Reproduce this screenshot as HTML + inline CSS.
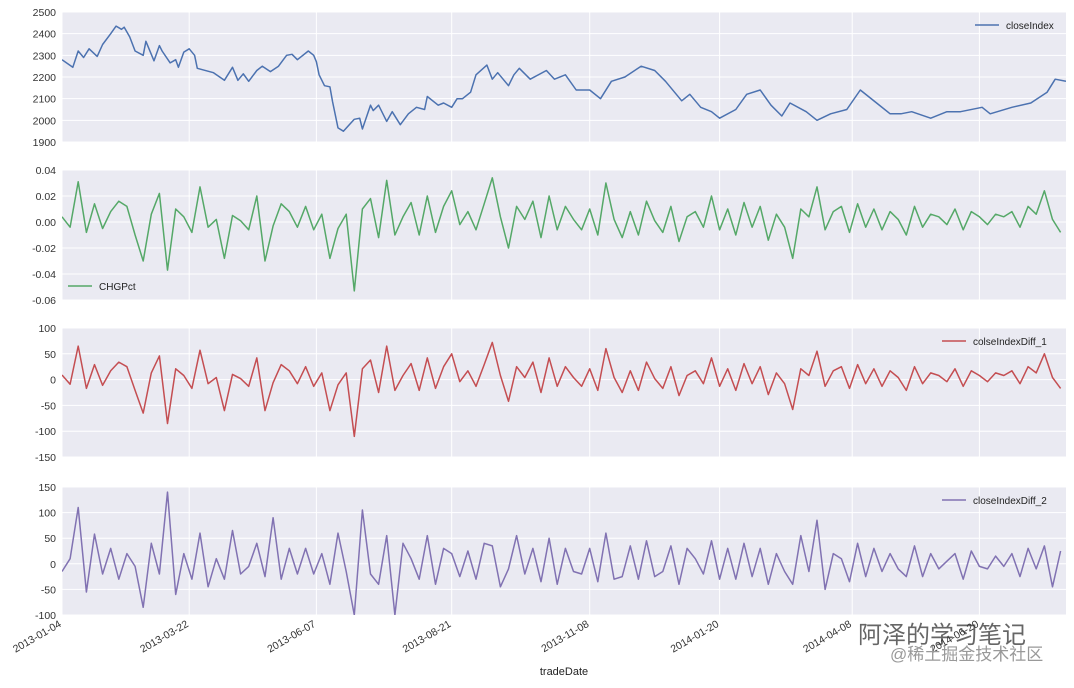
<!DOCTYPE html>
<html><head><meta charset="utf-8">
<style>
body{margin:0;background:#fff;width:1074px;height:683px;overflow:hidden;font-family:"Liberation Sans","Noto Sans CJK SC",sans-serif;}
svg text{font-family:"Liberation Sans","Noto Sans CJK SC",sans-serif;}
</style></head>
<body>
<svg id="chart" width="1074" height="683" xmlns="http://www.w3.org/2000/svg"></svg>
<script>
const closeDays=[0,4,6,8,10,13,15,18,20,22,23,25,27,30,31,34,36,37,40,42,43,45,47,49,50,56,60,63,65,67,69,72,74,77,80,83,85,87,91,93,94,95,97,99,100,102,104,108,110,111,114,115,117,120,122,125,128,131,134,135,139,141,144,146,148,151,153,157,159,161,165,167,169,173,179,182,186,190,195,199,203,208,214,219,223,229,232,236,240,243,249,253,258,262,266,269,275,279,284,290,295,301,306,310,314,321,327,332,340,343,351,358,364,367,371];
const closeVals=[2280,2245,2320,2290,2330,2295,2350,2400,2435,2420,2430,2385,2320,2300,2365,2275,2345,2320,2265,2280,2245,2315,2330,2300,2240,2220,2185,2245,2185,2215,2180,2230,2250,2225,2250,2300,2305,2280,2320,2300,2270,2210,2160,2155,2085,1965,1950,2005,2010,1960,2070,2045,2070,1995,2040,1980,2030,2060,2050,2110,2070,2080,2060,2100,2100,2130,2210,2255,2190,2220,2160,2210,2240,2190,2230,2190,2210,2140,2140,2100,2180,2200,2250,2230,2180,2090,2120,2060,2040,2010,2050,2120,2140,2070,2020,2080,2040,2000,2030,2050,2140,2080,2030,2030,2040,2010,2040,2040,2060,2030,2060,2080,2130,2190,2180];
const chgVals=[.004,-.004,.031,-.008,.014,-.005,.008,.016,.012,-.01,-.03,.006,.022,-.037,.01,.004,-.008,.027,-.004,.002,-.028,.005,.001,-.006,.02,-.03,-.003,.014,.008,-.004,.012,-.006,.006,-.028,-.005,.006,-.053,.01,.018,-.012,.032,-.01,.004,.015,-.01,.02,-.008,.012,.024,-.002,.008,-.006,.014,.034,.004,-.02,.012,.002,.016,-.012,.02,-.006,.012,.002,-.006,.01,-.01,.03,.002,-.012,.008,-.01,.016,.001,-.008,.012,-.015,.004,.008,-.004,.02,-.006,.01,-.01,.015,-.004,.012,-.014,.006,-.004,-.028,.01,.004,.027,-.006,.008,.012,-.008,.014,-.004,.01,-.006,.008,.002,-.01,.012,-.004,.006,.004,-.002,.01,-.006,.008,.004,-.002,.006,.004,.008,-.004,.012,.006,.024,.002,-.008];
const diff1Vals=[9,-9,65,-17,29,-11,17,34,25,-21,-65,13,46,-85,21,8,-17,57,-8,4,-60,10,2,-13,42,-60,-6,29,17,-8,25,-13,13,-60,-10,13,-110,21,38,-25,65,-21,8,31,-21,42,-17,25,50,-4,17,-13,29,72,8,-42,25,4,34,-25,42,-13,25,4,-13,21,-21,60,4,-25,17,-21,34,2,-17,25,-31,8,17,-8,42,-13,21,-21,31,-8,25,-29,13,-8,-58,21,8,55,-13,17,25,-17,29,-8,21,-13,17,4,-21,25,-8,13,8,-4,21,-13,17,8,-4,13,8,17,-8,25,13,50,4,-17];
const diff2Vals=[-15,10,110,-55,58,-20,30,-30,20,-5,-85,40,-20,140,-60,20,-30,60,-45,10,-30,65,-20,-5,40,-25,90,-30,30,-20,30,-20,20,-40,60,-15,-100,105,-20,-40,55,-100,40,10,-30,55,-40,30,20,-25,25,-30,40,35,-45,-10,55,-20,30,-35,50,-40,30,-15,-20,30,-35,60,-30,-25,35,-30,45,-25,-15,35,-40,30,10,-20,45,-30,30,-30,40,-25,30,-40,20,-15,-40,55,-15,85,-50,20,10,-35,40,-25,30,-15,20,-10,-25,35,-25,20,-10,5,20,-30,25,-5,-10,15,-5,20,-25,30,-10,35,-45,25];
const noiseStep=3;
const xTickDays=[0,47,94,144,195,243,292,339];
const xTickLabels=["2013-01-04","2013-03-22","2013-06-07","2013-08-21","2013-11-08","2014-01-20","2014-04-08","2014-06-20"];
const yTicks1=[1900,2000,2100,2200,2300,2400,2500];
const yTicks2=[-0.06,-0.04,-0.02,0,0.02,0.04];
const yTicks3=[-150,-100,-50,0,50,100];
const yTicks4=[-100,-50,0,50,100,150];

const NS="http://www.w3.org/2000/svg";
const svg=document.getElementById('chart');
const X0=62,X1=1066,DMAX=371;
const xs=d=>X0+(d/DMAX)*(X1-X0);
function mk(tag,attrs,parent){const e=document.createElementNS(NS,tag);for(const k in attrs)e.setAttribute(k,attrs[k]);(parent||svg).appendChild(e);return e;}

const panels=[
 {name:'close-index',top:12,bot:142,min:1900,max:2500,ticks:yTicks1,fmt:v=>v,days:closeDays,vals:closeVals,color:'#4C72B0',label:'closeIndex',lx:975,ly:18},
 {name:'chg-pct',top:170,bot:300,min:-0.06,max:0.04,ticks:yTicks2,fmt:v=>v.toFixed(2),vals:chgVals,color:'#55A868',label:'CHGPct',lx:68,ly:279},
 {name:'diff-1',top:328,bot:457,min:-150,max:100,ticks:yTicks3,fmt:v=>v,vals:diff1Vals,color:'#C44E52',label:'colseIndexDiff_1',lx:942,ly:334},
 {name:'diff-2',top:487,bot:615,min:-100,max:150,ticks:yTicks4,fmt:v=>v,vals:diff2Vals,color:'#8172B2',label:'closeIndexDiff_2',lx:942,ly:493}
];
panels.forEach(p=>{
 const g=mk('g',{});
 
 
 const ys=v=>p.bot-(v-p.min)/(p.max-p.min)*(p.bot-p.top);
 const bg=mk('rect',{x:X0,y:p.top,width:X1-X0,height:p.bot-p.top,fill:'#EAEAF2'},g);
 
 
 p.ticks.forEach(t=>{
  const y=ys(t);
  mk('line',{x1:X0,x2:X1,y1:y,y2:y,stroke:'#fff','stroke-width':1},g);
  const tx=mk('text',{x:56,y:y+4,'text-anchor':'end','font-size':10.5,fill:'#333'},g);
  tx.textContent=p.fmt(t);
  
  
 });
 xTickDays.forEach(d=>{mk('line',{x1:xs(d),x2:xs(d),y1:p.top,y2:p.bot,stroke:'#fff','stroke-width':1},g);});
 const days=p.days||p.vals.map((v,i)=>i*noiseStep);
 const pts=p.vals.map((v,i)=>xs(days[i]).toFixed(1)+','+ys(v).toFixed(1)).join(' ');
 const clip=mk('clipPath',{id:'c'+p.name},g);
 mk('rect',{x:X0,y:p.top,width:X1-X0,height:p.bot-p.top},clip);
 const line=mk('polyline',{points:pts,fill:'none',stroke:p.color,'stroke-width':1.5,'stroke-linejoin':'round','clip-path':'url(#c'+p.name+')'},g);
 
 
 const lg=mk('g',{},g);
 
 
 mk('line',{x1:p.lx,x2:p.lx+24,y1:p.ly+7,y2:p.ly+7,stroke:p.color,'stroke-width':1.6},lg);
 const lt=mk('text',{x:p.lx+31,y:p.ly+11,'font-size':10,fill:'#222'},lg);
 lt.textContent=p.label;
});
xTickDays.forEach((d,i)=>{
 const x=xs(d);
 const t=mk('text',{x:x,y:626,'text-anchor':'end','font-size':10.5,fill:'#333',transform:'rotate(-30 '+x+' 626)'});
 t.textContent=xTickLabels[i];
 
 
});
const xt=mk('text',{x:564,y:675,'text-anchor':'middle','font-size':11,fill:'#222'});
xt.textContent='tradeDate';


const wm=mk('text',{x:858,y:643,'font-size':24,fill:'#333','fill-opacity':0.75});
wm.textContent='阿泽的学习笔记';


const wm2=mk('text',{x:890,y:660,'font-size':17,fill:'#999'});
wm2.textContent='@稀土掘金技术社区';


</script>
</body></html>
